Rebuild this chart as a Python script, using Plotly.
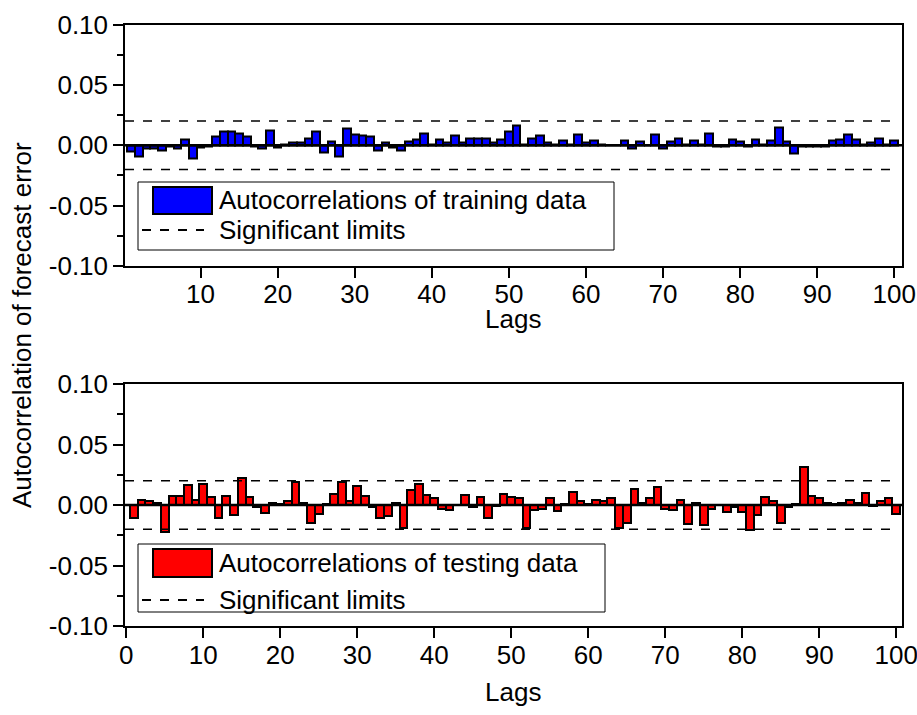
import plotly.graph_objects as go
from plotly.subplots import make_subplots

lags = list(range(1, 101))

train_acf = [
    -0.005, -0.009, -0.003, -0.003, -0.004, -0.001, -0.003, 0.005, -0.011, -0.002,
    -0.001, 0.007, 0.011, 0.011, 0.010, 0.007, -0.001, -0.003, 0.012, -0.002,
    0.001, 0.002, 0.002, 0.006, 0.011, -0.006, 0.003, -0.009, 0.014, 0.009,
    0.008, 0.007, -0.004, 0.002, -0.002, -0.004, 0.003, 0.005, 0.010, 0.001,
    0.005, 0.002, 0.008, 0.002, 0.006, 0.006, 0.006, 0.002, 0.005, 0.011,
    0.016, 0.001, 0.006, 0.008, 0.002, 0.001, 0.004, 0.001, 0.009, 0.002,
    0.004, 0.001, 0.000, 0.000, 0.004, -0.003, 0.003, 0.000, 0.009, -0.003,
    0.003, 0.006, 0.001, 0.004, 0.001, 0.010, -0.001, -0.001, 0.005, 0.003,
    -0.001, 0.005, 0.001, 0.004, 0.015, 0.003, -0.007, -0.001, -0.001, -0.001,
    -0.001, 0.004, 0.005, 0.009, 0.005, 0.001, 0.002, 0.006, 0.001, 0.004,
]

test_acf = [
    -0.011, 0.004, 0.003, 0.002, -0.022, 0.0075, 0.0075, 0.0165, 0.004, 0.0175,
    0.0065, -0.011, 0.0075, -0.008, 0.022, 0.0065, -0.002, -0.007, 0.002, 0.001,
    0.003, 0.019, 0.002, -0.015, -0.0075, 0.001, 0.009, 0.019, 0.003, 0.0155,
    0.0075, -0.002, -0.011, -0.009, 0.002, -0.019, 0.012, 0.017, 0.008, 0.006,
    -0.003, -0.0045, 0.000, 0.0085, -0.002, 0.0065, -0.011, -0.001, 0.009, 0.0065,
    0.0055, -0.019, -0.0045, -0.003, 0.0055, -0.005, 0.001, 0.011, 0.003, 0.001,
    0.0045, 0.003, 0.0055, -0.019, -0.0145, 0.013, 0.002, 0.0055, 0.0145, -0.003,
    -0.0045, 0.0045, -0.016, 0.002, -0.0165, -0.0036, 0.000, -0.006, -0.002, -0.0055,
    -0.021, -0.008, 0.0065, 0.003, -0.0145, -0.002, 0.0005, 0.031, 0.0075, 0.006,
    0.002, 0.0005, 0.002, 0.004, 0.002, 0.010, -0.001, 0.003, 0.006, -0.0075,
]

limit = 0.02
y_ticks = [-0.10, -0.05, 0.00, 0.05, 0.10]
y_tick_labels = ["-0.10", "-0.05", "0.00", "0.05", "0.10"]
top_x_ticks = [10, 20, 30, 40, 50, 60, 70, 80, 90, 100]
bottom_x_ticks = [0, 10, 20, 30, 40, 50, 60, 70, 80, 90, 100]

FONT = "Liberation Sans, Arial, sans-serif"
FS = 26
W, H = 917, 715
ML, MR, MT, MB = 125, 15, 24, 89
PW, PH = W - ML - MR, H - MT - MB


def px(x):
    return (x - ML) / PW


def py(y):
    return 1 - (y - MT) / PH


fig = make_subplots(rows=2, cols=1, vertical_spacing=0.0)

fig.add_trace(go.Bar(x=lags, y=train_acf, width=1.0,
                     marker=dict(color="#0000ff", line=dict(color="black", width=2)),
                     showlegend=False), row=1, col=1)
fig.add_trace(go.Bar(x=lags, y=test_acf, width=1.0,
                     marker=dict(color="#ff0000", line=dict(color="black", width=2)),
                     showlegend=False), row=2, col=1)

top_dom = [py(266), py(24.5)]
bot_dom = [py(626), py(384)]

axis_common = dict(showline=True, linecolor="black", linewidth=1.5, mirror=True,
                   showgrid=False, zeroline=False, ticks="outside", ticklen=10,
                   tickwidth=1.5, tickcolor="black", automargin=False,
                   ticklabeloverflow="allow",
                   tickfont=dict(family=FONT, size=FS, color="black"))

fig.update_xaxes(**axis_common, range=[0.2, 101.0], tickvals=top_x_ticks,
                 ticklabelstandoff=-6, row=1, col=1)
fig.update_xaxes(**axis_common, range=[-0.15, 100.75], tickvals=bottom_x_ticks,
                 ticklabelstandoff=-5, row=2, col=1)
for r, dom in ((1, top_dom), (2, bot_dom)):
    fig.update_yaxes(**axis_common, range=[-0.1, 0.1], tickvals=y_ticks, ticktext=y_tick_labels,
                     domain=dom,
                     minor=dict(ticks="outside", ticklen=6, tickwidth=1.5, tickcolor="black",
                                dtick=0.025, tick0=0.0),
                     row=r, col=1)

# zero lines and significance limits
for xr, yr in (("x", "y"), ("x2", "y2")):
    fig.add_shape(type="line", xref=f"{xr} domain", yref=yr, x0=0, x1=1, y0=0, y1=0,
                  line=dict(color="black", width=2.5))
    for s in (limit, -limit):
        fig.add_shape(type="line", xref=f"{xr} domain", yref=yr, x0=0, x1=0.995, y0=s, y1=s,
                      line=dict(color="black", width=1.5, dash="dash"))


def legend(box, swatch, color, dash_y, label1, label2, t1y):
    x0, x1, y0, y1 = box
    fig.add_shape(type="rect", xref="paper", yref="paper", x0=px(x0), x1=px(x1),
                  y0=py(y1), y1=py(y0), line=dict(color="black", width=1), fillcolor="white")
    sx0, sx1, sy0, sy1 = swatch
    fig.add_shape(type="rect", xref="paper", yref="paper", x0=px(sx0), x1=px(sx1),
                  y0=py(sy1), y1=py(sy0), line=dict(color="black", width=2), fillcolor=color)
    fig.add_shape(type="line", xref="paper", yref="paper", x0=px(142), x1=px(204),
                  y0=py(dash_y), y1=py(dash_y), line=dict(color="black", width=2, dash="dash"))
    fig.add_annotation(x=px(217), y=py(t1y), xref="paper", yref="paper", text=label1,
                       showarrow=False, xanchor="left", yanchor="middle",
                       font=dict(family=FONT, size=FS, color="black"))
    fig.add_annotation(x=px(217), y=py(dash_y), xref="paper", yref="paper", text=label2,
                       showarrow=False, xanchor="left", yanchor="middle",
                       font=dict(family=FONT, size=FS, color="black"))


legend((138, 614, 182, 250), (153, 212, 187, 214), "#0000ff", 230,
       "Autocorrelations of training data", "Significant limits", 200)
legend((138, 605, 544, 612), (153, 212, 549, 577), "#ff0000", 600,
       "Autocorrelations of testing data", "Significant limits", 563)

for ypos in (319, 692):
    fig.add_annotation(x=px(513), y=py(ypos), xref="paper", yref="paper", text="Lags",
                       showarrow=False, xanchor="center", yanchor="middle",
                       font=dict(family=FONT, size=FS, color="black"))
fig.add_annotation(x=px(22), y=py(325), xref="paper", yref="paper",
                   text="Autocorrelation of forecast error", textangle=-90,
                   showarrow=False, xanchor="center", yanchor="middle",
                   font=dict(family=FONT, size=FS, color="black"))

fig.update_layout(width=W, height=H, margin=dict(l=ML, r=MR, t=MT, b=MB, autoexpand=False),
                  plot_bgcolor="white", paper_bgcolor="white", bargap=0,
                  showlegend=False, font=dict(family=FONT, size=FS, color="black"))

fig.write_html("out.html", config={"displayModeBar": False},
               post_script="document.body.style.margin='0';")
